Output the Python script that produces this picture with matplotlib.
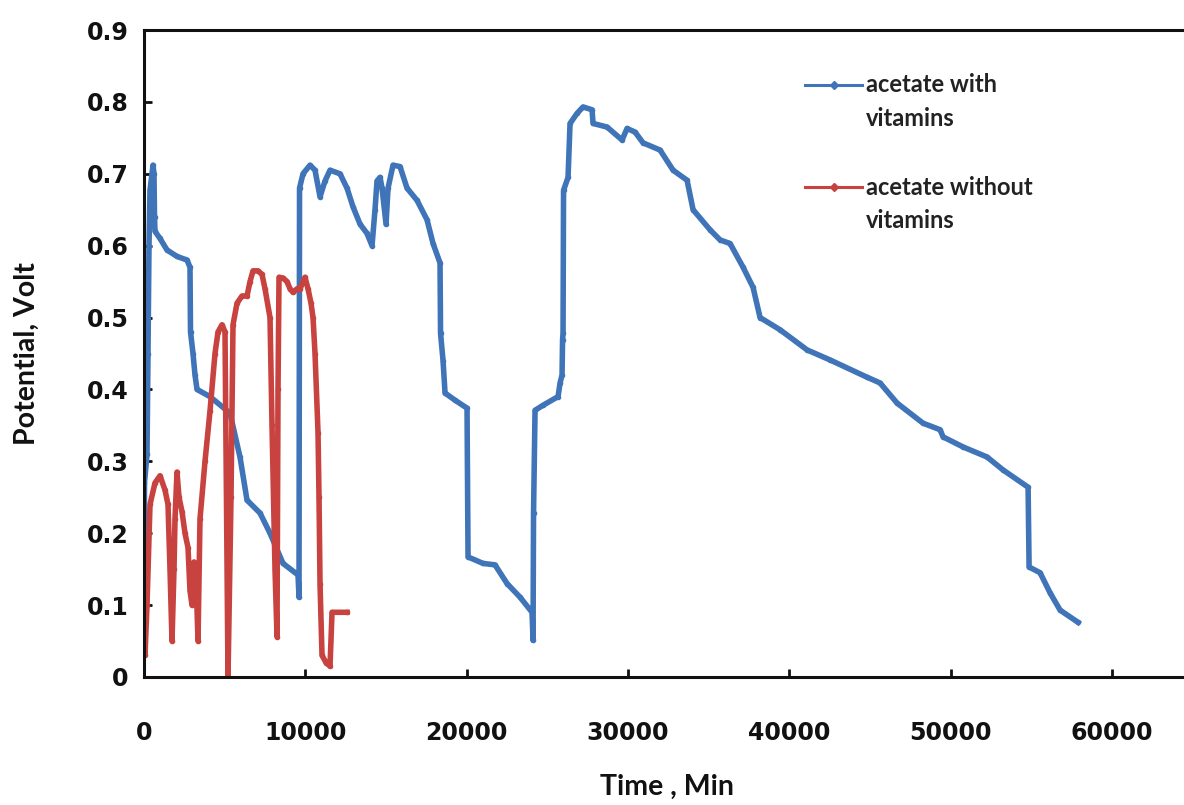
import matplotlib
matplotlib.use("Agg")
import matplotlib.pyplot as plt
from matplotlib.lines import Line2D

# acetate with vitamins (time in min, potential in V)
blue_t = [0, 30, 186, 248, 310, 372, 496, 558, 620, 651, 682, 992, 1426, 2046, 2666,
          2852, 2883, 3038, 3162, 3287, 4092, 5332, 5952, 6386, 7193, 7812, 8618, 9548,
          9610, 9642, 9858, 10291, 10602, 10912, 11222, 11532, 12152, 12586, 12958,
          13392, 13826, 14136, 14321, 14446, 14632, 14756, 15005, 15128, 15438, 15872,
          16307, 16927, 17546, 17919, 18352, 18384, 18539, 18662, 19283, 20026, 20088,
          21018, 21762, 22506, 23312, 24056, 24118, 24149, 24242, 24739, 25668, 25793,
          25916, 25948, 25978, 26009, 26288, 26412, 26846, 27218, 27777, 27838, 28707,
          29637, 29946, 30443, 30939, 31993, 32799, 33666, 34039, 35093, 35713, 36333,
          37138, 37758, 38192, 39431, 41106, 42532, 44826, 45632, 46686, 48298, 49351,
          49538, 50777, 52265, 53257, 54808, 54870, 55552, 56172, 56792, 57907]
blue_v = [0.06, 0.27, 0.31, 0.45, 0.60, 0.677, 0.70, 0.712, 0.70, 0.64, 0.62, 0.61, 0.594,
          0.585, 0.58, 0.57, 0.48, 0.45, 0.42, 0.40, 0.39, 0.367, 0.306, 0.246, 0.228, 0.20,
          0.158, 0.142, 0.111, 0.68, 0.70, 0.712, 0.705, 0.668, 0.69, 0.705, 0.70, 0.68,
          0.654, 0.63, 0.617, 0.60, 0.65, 0.69, 0.695, 0.68, 0.63, 0.68, 0.712, 0.71, 0.68,
          0.663, 0.636, 0.603, 0.576, 0.478, 0.44, 0.395, 0.385, 0.374, 0.167, 0.158, 0.156,
          0.13, 0.111, 0.09, 0.051, 0.228, 0.371, 0.378, 0.39, 0.409, 0.42, 0.469, 0.478,
          0.677, 0.695, 0.77, 0.784, 0.793, 0.789, 0.77, 0.765, 0.747, 0.763, 0.758, 0.743,
          0.733, 0.705, 0.691, 0.65, 0.622, 0.608, 0.603, 0.57, 0.542, 0.50, 0.483, 0.455,
          0.441, 0.417, 0.409, 0.381, 0.353, 0.344, 0.334, 0.32, 0.306, 0.288, 0.264, 0.153,
          0.145, 0.117, 0.093, 0.076]

# acetate without vitamins
red_t = [0, 30, 62, 186, 372, 682, 992, 1302, 1488, 1612, 1736, 1860, 1922, 2046, 2170,
         2356, 2542, 2728, 2852, 2976, 3100, 3224, 3348, 3472, 3782, 4092, 4402, 4588, 4836,
         5022, 5208, 5394, 5518, 5766, 6076, 6386, 6572, 6758, 7068, 7316, 7502, 7812, 7936,
         8122, 8246, 8308, 8370, 8618, 8866, 9052, 9238, 9486, 9672, 9982, 10168, 10354,
         10478, 10602, 10788, 10850, 10912, 11036, 11284, 11532, 11656, 12586]
red_v = [0.11, 0.12, 0.03, 0.10, 0.24, 0.27, 0.28, 0.26, 0.24, 0.15, 0.05, 0.15, 0.22, 0.285,
         0.25, 0.23, 0.20, 0.18, 0.12, 0.10, 0.16, 0.14, 0.05, 0.22, 0.30, 0.37, 0.45, 0.48,
         0.49, 0.48, 0.0, 0.25, 0.49, 0.52, 0.53, 0.53, 0.55, 0.565, 0.565, 0.56, 0.54, 0.50,
         0.35, 0.15, 0.056, 0.40, 0.556, 0.555, 0.55, 0.54, 0.535, 0.54, 0.54, 0.556, 0.54,
         0.52, 0.50, 0.45, 0.34, 0.25, 0.13, 0.03, 0.02, 0.015, 0.09, 0.09]

labels = [("acetate with", "vitamins"), ("acetate without", "vitamins")]
x_ticks = [0, 10000, 20000, 30000, 40000, 50000, 60000]
y_ticks = [0, 0.1, 0.2, 0.3, 0.4, 0.5, 0.6, 0.7, 0.8, 0.9]

blue = "#3F74B8"
red = "#C8423F"
W, H = 1184, 805

fig = plt.figure(figsize=(W / 100, H / 100), dpi=100)
ax = fig.add_axes([144 / W, 1 - 677 / H, 1048.5 / W, (677 - 30) / H])

ax.plot(blue_t, blue_v, color=blue, lw=4, marker='o', markersize=3,
        solid_joinstyle='round')
ax.plot(red_t, red_v, color=red, lw=4, marker='o', markersize=3,
        solid_joinstyle='round')

ax.set_xlim(0, 65000)
ax.set_ylim(0, 0.9)
ax.set_xticks(x_ticks)
ax.set_yticks(y_ticks)
ax.set_xticklabels([str(v) for v in x_ticks])
ax.set_yticklabels(["0" if v == 0 else f"{v:.1f}" for v in y_ticks])

for s in ["left", "bottom", "top"]:
    ax.spines[s].set_linewidth(2.2)
    ax.spines[s].set_color("#111111")
ax.spines["right"].set_visible(False)

ax.tick_params(direction="in", length=6, width=2, labelsize=17, colors="#111111")
ax.tick_params(axis="y", pad=11)
ax.tick_params(axis="x", pad=32)
for lab in ax.get_xticklabels() + ax.get_yticklabels():
    lab.set_fontweight("bold")
    lab.set_family(["DejaVu Sans"])

lab_font = dict(fontsize=20.5, fontweight="bold", family=["Lato", "DejaVu Sans"], color="#111111")
ax.set_xlabel("Time , Min", **lab_font)
ax.set_ylabel("Potential, Volt", **lab_font)
ax.xaxis.set_label_coords((667 - 144) / 1048.5, -(774 - 677) / 647)
ax.yaxis.set_label_coords(-(144 - 40) / 1048.5, 0.5)

# legend drawn by hand (handle on the first text line, as in the reference)
leg_font = dict(fontsize=17, fontweight="bold", family=["Lato", "DejaVu Sans"],
                color="#222222", va="center", ha="left")
for (l1, l2), col, y0 in [(labels[0], blue, 85), (labels[1], red, 187)]:
    fig.add_artist(Line2D([805 / W, 862 / W], [1 - y0 / H, 1 - y0 / H], color=col, lw=2.2,
                          transform=fig.transFigure))
    fig.add_artist(Line2D([833.5 / W], [1 - y0 / H], color=col, marker='D', markersize=4,
                          transform=fig.transFigure))
    fig.text(866 / W, 1 - y0 / H, l1, **leg_font)
    fig.text(866 / W, 1 - (y0 + 33) / H, l2, **leg_font)

fig.savefig("out.png", dpi=100)
